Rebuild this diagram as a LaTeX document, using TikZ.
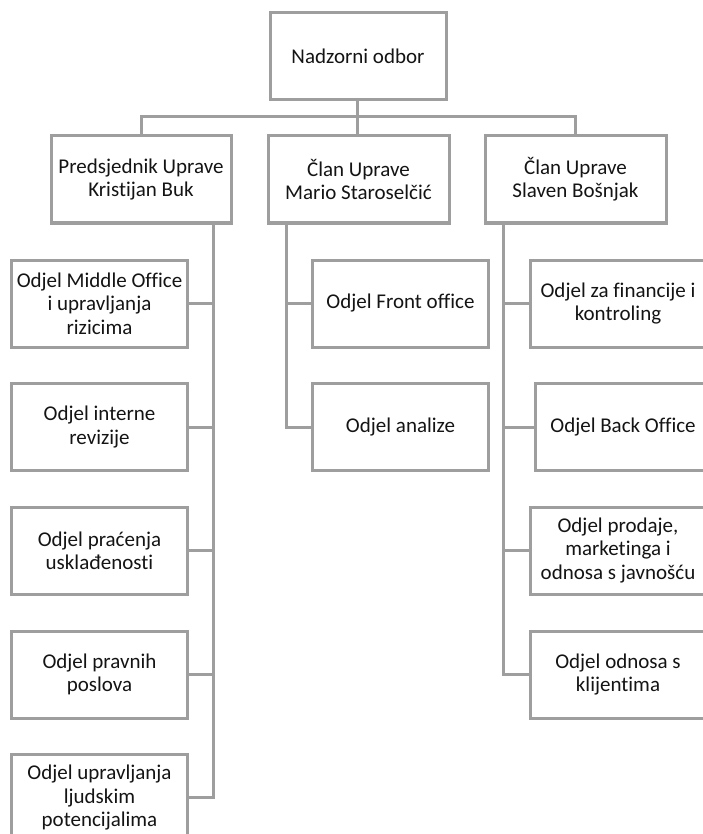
\documentclass[tikz,border=0pt]{standalone}
\usepackage{fontspec}
\setmainfont{Carlito}[Ligatures=CommonOff]
\definecolor{linegray}{RGB}{158,158,158}
\definecolor{txt}{RGB}{20,20,20}
\tikzset{
  box/.style={draw=linegray, line width=3pt, fill=white, inner sep=0pt, align=center,
    text=txt, font=\fontsize{21}{23.3}\selectfont, minimum height=87pt},
  wbox/.style={box, minimum width=176pt},
  conn/.style={draw=linegray, line width=3pt}
}
\begin{document}
\begin{tikzpicture}[x=1pt,y=-1pt]
\clip (0,0) rectangle (703,834);
\useasboundingbox (0,0) rectangle (703,834);
% top
\node[box, minimum width=176pt] (top) at (358,56) {Nadzorni odbor};
% level 2
\node[box, minimum width=180pt] (b1) at (141,179.5) {Predsjednik Uprave\\Kristijan Buk};
\node[box, minimum width=181pt] (b2) at (358.5,179.5) {Član Uprave\\Mario Staroselčić};
\node[box, minimum width=181pt] (b3) at (575.5,179.5) {Član Uprave\\Slaven Bošnjak};
% left column
\node[wbox] (l1) at (99.5,303.5) {Odjel Middle Office\\i upravljanja\\rizicima};
\node[wbox] (l2) at (99.5,427) {Odjel interne\\revizije};
\node[wbox] (l3) at (99.5,550.5) {Odjel praćenja\\usklađenosti};
\node[wbox] (l4) at (99.5,674.5) {Odjel pravnih\\poslova};
\node[wbox] (l5) at (99.5,797.5) {Odjel upravljanja\\ljudskim\\potencijalima};
% middle column
\node[wbox] (m1) at (400.5,303.5) {Odjel Front office};
\node[wbox] (m2) at (400.5,427) {Odjel analize};
% right column
\node[wbox] (r1) at (618,303.5) {Odjel za financije i\\kontroling};
\node[wbox] (r2) at (623,427) {Odjel Back Office};
\node[wbox] (r3) at (618,550.5) {Odjel prodaje,\\marketinga i\\odnosa s javnošću};
\node[wbox] (r4) at (618,674.5) {Odjel odnosa s\\klijentima};
% bus
\coordinate (busL) at (141,117);
\coordinate (busR) at (575.5,117);
\coordinate (busM) at (357,117);
\coordinate (t1) at (213.5,223);
\coordinate (t2) at (286,223);
\coordinate (t3) at (503,223);
\begin{scope}[conn, line cap=rect]
\draw (top.south -| busM) -- (busM);
\draw (busL) -- (busR);
\draw (busL) -- (busL |- b1.north);
\draw (busM) -- (busM |- b2.north);
\draw (busR) -- (busR |- b3.north);
% left trunk
\draw (t1) |- (l5.east);
\draw (l1.east) -- (l1.east -| t1);
\draw (l2.east) -- (l2.east -| t1);
\draw (l3.east) -- (l3.east -| t1);
\draw (l4.east) -- (l4.east -| t1);
% middle trunk
\draw (t2) |- (m2.west);
\draw (m1.west) -- (m1.west -| t2);
% right trunk
\draw (t3) |- (r4.west);
\draw (r1.west) -- (r1.west -| t3);
\draw (r2.west) -- (r2.west -| t3);
\draw (r3.west) -- (r3.west -| t3);
\end{scope}
\end{tikzpicture}
\end{document}
